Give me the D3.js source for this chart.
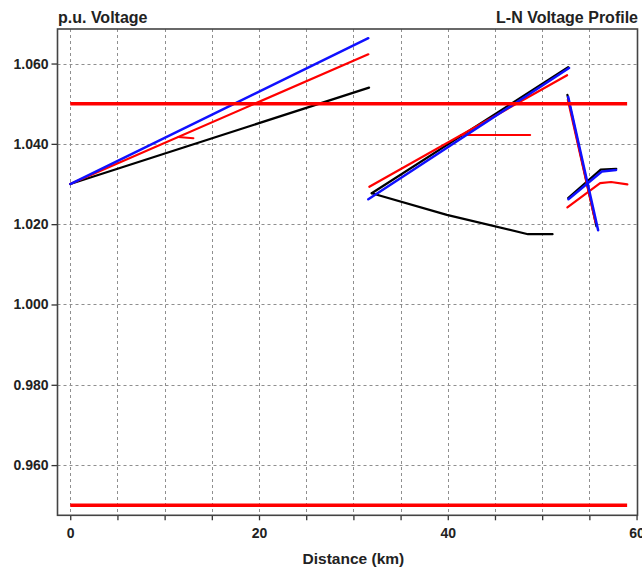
<!DOCTYPE html>
<html>
<head>
<meta charset="utf-8">
<script src="https://cdn.jsdelivr.net/npm/d3@7"></script>
<style>
  html, body { margin: 0; padding: 0; background: #fff; }
  svg { display: block; font-family: "Liberation Sans", Arial, sans-serif; }
  .tick text { font-weight: bold; font-size: 14px; fill: #222; }
</style>
</head>
<body>
<svg id="chart" width="642" height="569"></svg>
<script>
// Voltage profile along the feeder (distance km, p.u. voltage), one list of
// polylines per phase.
const phase1 = [ // black
  [[0, 1.0300], [31.66, 1.0540]],
  [[31.94, 1.0277], [52.75, 1.0591]],
  [[31.94, 1.0277], [39.9, 1.0223], [48.5, 1.0175], [51.1, 1.0175]],
  [[52.67, 1.0522], [55.75, 1.0195]],
  [[52.75, 1.0265], [56.2, 1.0336], [57.85, 1.0338]]
];
const phase2 = [ // red
  [[0, 1.0300], [31.58, 1.0623]],
  [[11.45, 1.0417], [13.04, 1.0414]],
  [[31.69, 1.0293], [52.64, 1.0571]],
  [[41.4, 1.0422], [48.72, 1.0422]],
  [[52.72, 1.0510], [55.65, 1.0205]],
  [[52.67, 1.0242], [56.14, 1.0302], [57.3, 1.0305], [59.03, 1.0299]]
];
const phase3 = [ // blue
  [[0, 1.0300], [31.58, 1.0663]],
  [[31.58, 1.0262], [52.85, 1.0589]],
  [[52.75, 1.0517], [55.93, 1.0185]],
  [[52.78, 1.0262], [56.32, 1.0331], [57.83, 1.0335]]
];
const limitValues = [0.95, 1.05];
const limitSpan = [0, 59];

const xTicks = d3.range(0, 61, 5);
const xLabels = [0, 20, 40, 60];
const yTicks = [0.96, 0.98, 1.00, 1.02, 1.04, 1.06];

const svg = d3.select("#chart");
const plotL = 57.5, plotR = 637.5, plotT = 29, plotB = 515.3;

const x = d3.scaleLinear().domain([-1.35, 60.1]).range([plotL, plotR]);
const y = d3.scaleLinear().domain([0.9475, 1.0686]).range([plotB, plotT]);

// grid
const grid = svg.append("g")
  .attr("stroke", "#8f8f8f").attr("stroke-width", 1).attr("stroke-dasharray", "3,3");
grid.selectAll("line.v").data(xTicks.filter(d => d < 60)).join("line")
  .attr("class", "v")
  .attr("x1", d => Math.round(x(d)) + 0.5).attr("x2", d => Math.round(x(d)) + 0.5)
  .attr("y1", plotT).attr("y2", plotB);
grid.selectAll("line.h").data(yTicks).join("line")
  .attr("class", "h")
  .attr("y1", d => Math.round(y(d)) + 0.5).attr("y2", d => Math.round(y(d)) + 0.5)
  .attr("x1", plotL).attr("x2", plotR);

// axes
const xAxis = d3.axisBottom(x).tickValues(xTicks).tickSize(5).tickPadding(8)
  .tickFormat(d => xLabels.includes(d) ? String(d) : "");
svg.append("g").attr("transform", `translate(0,${plotB})`).call(xAxis)
  .call(g => g.select(".domain").remove())
  .call(g => g.selectAll(".tick line").attr("stroke", "#333").attr("stroke-width", 1.3));

const yAxis = d3.axisLeft(y).tickValues(yTicks).tickSize(6).tickPadding(3)
  .tickFormat(d3.format(".3f"));
svg.append("g").attr("transform", `translate(${plotL},0)`).call(yAxis)
  .call(g => g.select(".domain").remove())
  .call(g => g.selectAll(".tick line").attr("stroke", "#333").attr("stroke-width", 1.3));

// frame
svg.append("rect")
  .attr("x", plotL).attr("y", plotT).attr("width", plotR - plotL).attr("height", plotB - plotT)
  .attr("fill", "none").attr("stroke", "#444").attr("stroke-width", 1.6);

// phase profiles
const line = d3.line().x(d => x(d[0])).y(d => y(d[1]));
const phases = [
  { data: phase1, color: "#000000", width: 2.2 },
  { data: phase2, color: "#ff0000", width: 2.2 },
  { data: phase3, color: "#1010ff", width: 2.5 }
];
phases.forEach(p => {
  svg.append("g").selectAll("path").data(p.data).join("path")
    .attr("d", line).attr("fill", "none")
    .attr("stroke", p.color).attr("stroke-width", p.width)
    .attr("stroke-linecap", "round").attr("stroke-linejoin", "round");
});

// voltage limits
svg.append("g").selectAll("line").data(limitValues).join("line")
  .attr("x1", x(limitSpan[0])).attr("x2", x(limitSpan[1]))
  .attr("y1", d => y(d)).attr("y2", d => y(d))
  .attr("stroke", "#ff0000").attr("stroke-width", 3.4);

// titles
svg.append("text").attr("x", 58).attr("y", 23)
  .attr("font-size", 16).attr("font-weight", "bold").attr("fill", "#222")
  .text("p.u. Voltage");
svg.append("text").attr("x", 638).attr("y", 23).attr("text-anchor", "end")
  .attr("font-size", 16).attr("font-weight", "bold").attr("fill", "#222")
  .text("L-N Voltage Profile");
svg.append("text").attr("x", (x(0) + x(60)) / 2).attr("y", 564).attr("text-anchor", "middle")
  .attr("font-size", 15.5).attr("font-weight", "bold").attr("fill", "#222")
  .text("Distance (km)");
</script>
</body>
</html>
